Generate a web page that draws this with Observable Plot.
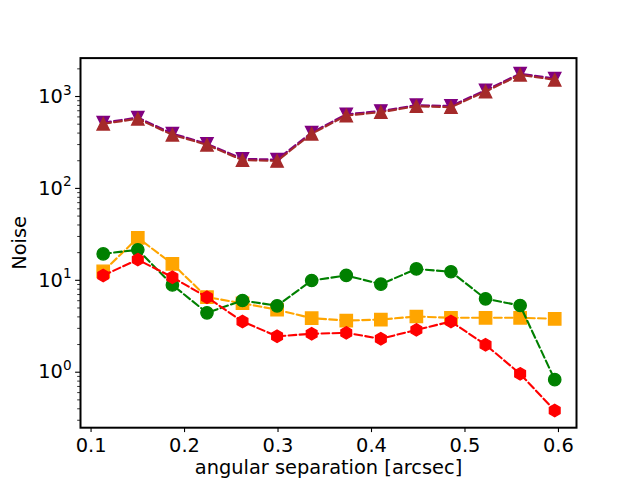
<!DOCTYPE html>
<html>
<head>
<meta charset="utf-8">
<script src="https://cdn.jsdelivr.net/npm/d3@7"></script>
<script src="https://cdn.jsdelivr.net/npm/@observablehq/plot@0.6"></script>
<style>
  html, body { margin: 0; padding: 0; background: #fff; }
  #chart svg { display: block; }
</style>
</head>
<body>
<div id="chart"></div>
<script>
// ---- data ----
const separation = [0.113, 0.150, 0.187, 0.224, 0.262, 0.299, 0.336, 0.373, 0.410, 0.448, 0.485, 0.522, 0.559, 0.596];
const purpleNoise = [520, 590, 395, 306, 210, 206, 405, 640, 695, 805, 790, 1170, 1775, 1570];
const brownNoise  = [505, 572, 383, 298, 203, 199, 393, 621, 675, 784, 765, 1133, 1722, 1520];
const orangeNoise = [12.5, 29.0, 15.1, 6.55, 5.63, 4.78, 3.87, 3.65, 3.74, 4.04, 3.91, 3.91, 3.91, 3.81];
const greenNoise  = [19.4, 21.5, 8.9, 4.43, 6.03, 5.28, 9.95, 11.3, 9.07, 13.3, 12.4, 6.29, 5.32, 0.83];
const redNoise    = [11.3, 16.8, 10.8, 6.55, 3.56, 2.46, 2.62, 2.68, 2.31, 2.89, 3.56, 1.99, 0.96, 0.383];
const xTicks = [0.1, 0.2, 0.3, 0.4, 0.5, 0.6];
const yMajorTicks = [1, 10, 100, 1000];
const yMinorTicks = [0.3, 0.4, 0.5, 0.6, 0.7, 0.8, 0.9, 2, 3, 4, 5, 6, 7, 8, 9, 20, 30, 40, 50, 60, 70, 80, 90, 200, 300, 400, 500, 600, 700, 800, 900, 2000];

// ---- marker shapes (radius-based) ----
const shape = f => ({draw(ctx, size) { f(ctx, Math.sqrt(size / Math.PI)); }});
const circleSym = shape((c, r) => { c.moveTo(r, 0); c.arc(0, 0, r, 0, 2 * Math.PI); });
const squareSym = shape((c, r) => { c.rect(-r, -r, 2 * r, 2 * r); });
const triUpSym = shape((c, r) => { c.moveTo(0, -r); c.lineTo(r, r); c.lineTo(-r, r); c.closePath(); });
const triDownSym = shape((c, r) => { c.moveTo(0, r); c.lineTo(r, -r); c.lineTo(-r, -r); c.closePath(); });
const hexSym = shape((c, r) => {
  for (let i = 0; i < 6; i++) {
    const a = -Math.PI / 2 + i * Math.PI / 3;
    const px = r * Math.cos(a), py = r * Math.sin(a);
    if (i === 0) c.moveTo(px, py); else c.lineTo(px, py);
  }
  c.closePath();
});

const series = [
  {values: purpleNoise, color: "purple", symbol: triDownSym},
  {values: brownNoise, color: "brown", symbol: triUpSym},
  {values: orangeNoise, color: "orange", symbol: squareSym},
  {values: greenNoise, color: "green", symbol: circleSym},
  {values: redNoise, color: "red", symbol: hexSym}
];

const marks = [];
for (const s of series) {
  const rows = separation.map((x, i) => ({x, y: s.values[i]}));
  marks.push(Plot.line(rows, {x: "x", y: "y", stroke: s.color, strokeWidth: 2.1, strokeDasharray: "7.7,3.3"}));
  marks.push(Plot.dot(rows, {x: "x", y: "y", symbol: s.symbol, r: 6.2, fill: s.color, stroke: s.color, strokeWidth: 1.3}));
}

const chart = Plot.plot({
  width: 640,
  height: 480,
  marginLeft: 80,
  marginRight: 64,
  marginTop: 57.6,
  marginBottom: 52.8,
  style: {fontFamily: "DejaVu Sans", fontSize: "19.4px", color: "black", background: "white"},
  x: {domain: [0.0887, 0.6193]},
  y: {type: "log", domain: [0.249, 2618]},
  marks: [
    ...marks,
    Plot.axisX({ticks: xTicks, tickSize: 4.9, tickPadding: 6, tickFormat: d => d.toFixed(1), strokeWidth: 1.1,
      label: "angular separation [arcsec]", labelAnchor: "center", labelArrow: "none", labelOffset: 46}),
    Plot.axisY({ticks: yMajorTicks, tickSize: 4.9, tickPadding: 4, strokeWidth: 1.1,
      tickFormat: d => "10^" + Math.round(Math.log10(d)),
      label: "Noise", labelAnchor: "center", labelArrow: "none", labelOffset: 68}),
    Plot.axisY({ticks: yMinorTicks, tickSize: 2.8, strokeWidth: 0.8, tickFormat: () => "", label: null}),
    Plot.frame({stroke: "black", strokeWidth: 2})
  ]
});

// enforce font and render "10^n" tick labels as 10 with a raised exponent
d3.select(chart).selectAll("text").each(function() {
  const t = d3.select(this);
  t.style("font-family", "'DejaVu Sans', sans-serif").style("font-size", "19.4px").style("fill", "black");
  const s = t.text();
  const m = /^10\^(\d+)$/.exec(s);
  if (m) {
    t.text("10");
    t.append("tspan").style("font-size", "13.6px").attr("dy", "-0.6em").text(m[1]);
  }
});
document.getElementById("chart").appendChild(chart);
</script>
</body>
</html>
